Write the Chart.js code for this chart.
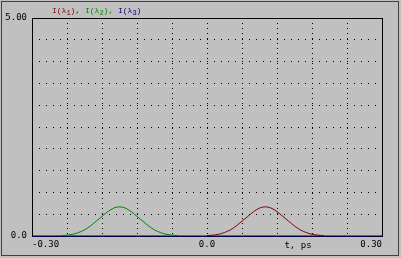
<!DOCTYPE html>
<html>
<head>
<meta charset="utf-8">
<script src="https://cdn.jsdelivr.net/npm/chart.js@4/dist/chart.umd.min.js"></script>
<style>
  html, body { margin: 0; padding: 0; background: #c0c0c0; }
  #wrap { width: 401px; height: 258px; }
</style>
</head>
<body>
<div id="wrap"><canvas id="grafico" width="401" height="258"></canvas></div>
<script>
// valores
const tRed = [0.00, 0.01, 0.02, 0.03, 0.04, 0.05, 0.06, 0.07, 0.08, 0.09, 0.10,
              0.11, 0.12, 0.13, 0.14, 0.15, 0.16, 0.17, 0.18, 0.19, 0.20];
const iRed = [0.01, 0.02, 0.04, 0.08, 0.14, 0.23, 0.34, 0.45, 0.56, 0.64, 0.67,
              0.64, 0.56, 0.45, 0.34, 0.23, 0.14, 0.08, 0.04, 0.02, 0.01];

const tGreen = [-0.25, -0.24, -0.23, -0.22, -0.21, -0.20, -0.19, -0.18, -0.17, -0.16, -0.15,
                -0.14, -0.13, -0.12, -0.11, -0.10, -0.09, -0.08, -0.07, -0.06, -0.05];
const iGreen = [0.01, 0.02, 0.04, 0.08, 0.14, 0.23, 0.34, 0.45, 0.56, 0.64, 0.67,
                0.64, 0.56, 0.45, 0.34, 0.23, 0.14, 0.08, 0.04, 0.02, 0.01];

const tBlue = [-0.30, 0.30];
const iBlue = [0, 0];

const xTicks = {'-0.3': '-0.30', '0': '0.0', '0.3': '0.30'};
const yTicks = {'0': '0.0', '5': '5.00'};

const ROJO = '#800000', VERDE = '#008000', AZUL = '#000080';
const fuente = '"DejaVu Sans Mono", monospace';

function puntos(xs, ys) {
    return xs.map((x, i) => ({x: x, y: ys[i]}));
}

const marco = {
    id: 'marco',
    beforeDatasetsDraw(chart) {
        const c = chart.ctx;
        const a = chart.chartArea;
        c.save();
        c.strokeStyle = '#000';
        c.lineWidth = 1;
        c.strokeRect(a.left + 0.5, a.top + 0.5, a.right - a.left, a.bottom - a.top);
        c.restore();
    },
    afterDraw(chart) {
        const c = chart.ctx;
        c.save();
        c.strokeStyle = '#404040';
        c.lineWidth = 1;
        c.strokeRect(1.5, 1.5, 397, 254);

        // leyenda
        const partes = [
            ['I(λ', ROJO, 0], ['1', ROJO, 1], ['), ', ROJO, 0],
            ['I(λ', VERDE, 0], ['2', VERDE, 1], ['), ', VERDE, 0],
            ['I(λ', AZUL, 0], ['3', AZUL, 1], [')', AZUL, 0]
        ];
        let x = 52;
        c.textBaseline = 'alphabetic';
        partes.forEach(p => {
            c.font = (p[2] ? '7px ' : '8px ') + '"Liberation Mono", monospace';
            c.fillStyle = p[1];
            c.fillText(p[0], x, p[2] ? 15 : 13);
            x += c.measureText(p[0]).width;
        });

        // titulo eje x
        c.font = '9px ' + fuente;
        c.fillStyle = '#000';
        c.textAlign = 'center';
        c.textBaseline = 'middle';
        c.fillText('t, ps', chart.scales.x.getPixelForValue(0.156), 246);
        c.restore();
    }
};

const ctx = document.getElementById('grafico').getContext('2d');
const grafico = new Chart(ctx, {
    type: 'line',
    data: {
        datasets: [
            {label: 'I(λ1)', data: puntos(tRed, iRed), borderColor: ROJO},
            {label: 'I(λ2)', data: puntos(tGreen, iGreen), borderColor: VERDE},
            {label: 'I(λ3)', data: puntos(tBlue, iBlue), borderColor: AZUL}
        ]
    },
    options: {
        responsive: false,
        animation: false,
        events: [],
        layout: {padding: {left: 0, right: 19, top: 18, bottom: 0}},
        elements: {
            point: {radius: 0},
            line: {borderWidth: 1, tension: 0.3}
        },
        datasets: {line: {clip: 4}},
        plugins: {legend: {display: false}, tooltip: {enabled: false}},
        scales: {
            x: {
                type: 'linear',
                min: -0.3,
                max: 0.3,
                afterFit(s) { s.height = 22; },
                grid: {color: '#000', lineWidth: 1, drawTicks: false},
                border: {display: false, dash: [1, 4]},
                ticks: {
                    stepSize: 0.06,
                    align: 'inner',
                    padding: 3,
                    maxRotation: 0,
                    autoSkip: false,
                    color: '#000',
                    font: {family: fuente, size: 9},
                    callback: v => xTicks[String(Math.round(v * 100) / 100)] || ''
                }
            },
            y: {
                min: 0,
                max: 5,
                afterFit(s) { s.width = 32; },
                grid: {color: '#000', lineWidth: 1, drawTicks: false},
                border: {display: false, dash: [1, 6]},
                ticks: {
                    stepSize: 0.5,
                    padding: 5,
                    color: '#000',
                    font: {family: fuente, size: 9},
                    callback: v => yTicks[String(Math.round(v * 100) / 100)] || ''
                }
            }
        }
    },
    plugins: [marco]
});
</script>
</body>
</html>
